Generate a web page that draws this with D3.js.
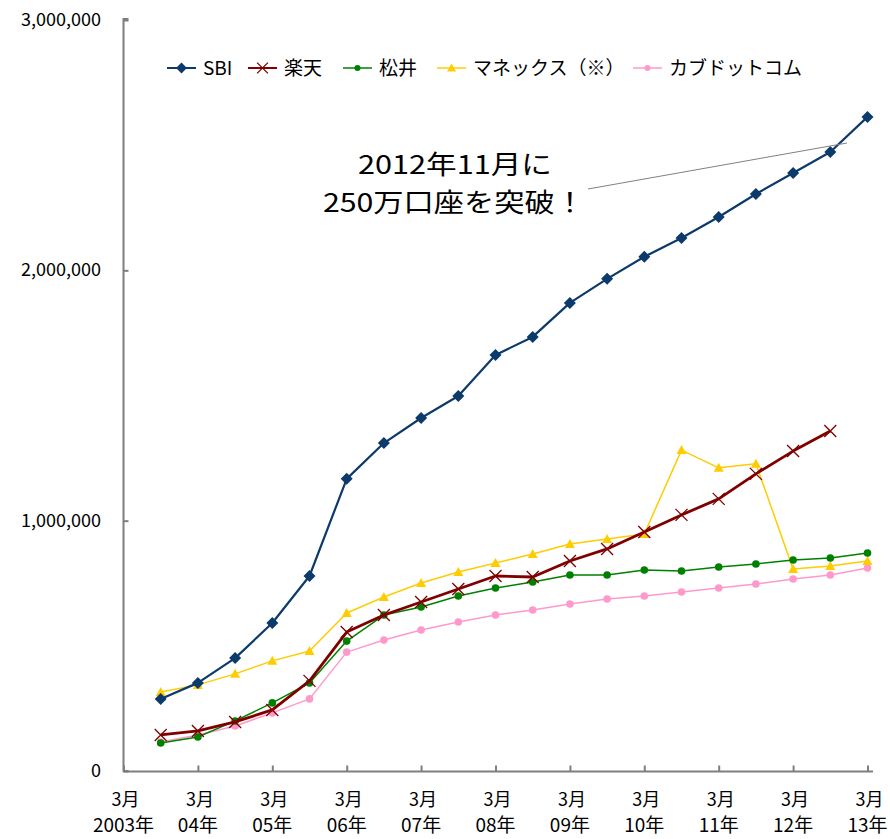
<!DOCTYPE html>
<html>
<head>
<meta charset="utf-8">
<script src="https://cdn.jsdelivr.net/npm/d3@7"></script>
<style>
  body { margin: 0; background: #fff; }
  text { font-family: "Noto Sans CJK JP", "Liberation Sans", sans-serif; fill: #000; }
</style>
</head>
<body>
<div id="chart"></div>
<script>
// half-year steps from 2003/3 (index 0) to 2013/3 (index 20); data starts at 2003/9
const periods = d3.range(1, 21);
const yearLabels = ["2003年", "04年", "05年", "06年", "07年", "08年", "09年", "10年", "11年", "12年", "13年"];
const yTicks = [0, 1000000, 2000000, 3000000];

const sbi = [288000, 352000, 451000, 591000, 779000, 1167000, 1310000, 1410000, 1498000, 1662000,
  1734000, 1870000, 1966000, 2054000, 2129000, 2213000, 2305000, 2389000, 2473000, 2613000];
const rakuten = [144000, 160000, 196000, 244000, 360000, 555000, 623000, 675000, 727000, 779000,
  775000, 839000, 887000, 955000, 1023000, 1087000, 1187000, 1278000, 1358000];
const matsui = [112000, 136000, 200000, 272000, 352000, 519000, 623000, 655000, 699000, 731000,
  755000, 783000, 783000, 803000, 799000, 815000, 827000, 843000, 851000, 871000];
const monex = [316000, 344000, 388000, 440000, 479000, 631000, 695000, 751000, 795000, 831000,
  867000, 907000, 927000, 947000, 1282000, 1211000, 1227000, 807000, 819000, 839000];
const kabu = [116000, 144000, 180000, 232000, 288000, 475000, 523000, 563000, 595000, 623000,
  643000, 667000, 687000, 699000, 715000, 731000, 747000, 767000, 783000, 811000];

const series = [
  {name: "SBI", values: sbi, color: "#0b3a6b", width: 2.2, marker: "diamond", legendX: 167},
  {name: "楽天", values: rakuten, color: "#800000", width: 2.8, marker: "cross", legendX: 248},
  {name: "松井", values: matsui, color: "#008000", width: 1.5, marker: "circle", legendX: 343},
  {name: "マネックス（※）", values: monex, color: "#ffcc00", width: 1.5, marker: "triangle", legendX: 437},
  {name: "カブドットコム", values: kabu, color: "#ff99cc", width: 1.5, marker: "circle", legendX: 633}
];

const W = 890, H = 839;
const x = d3.scaleLinear().domain([0, 20]).range([123.5, 867.5]);
const y = d3.scaleLinear().domain([0, 3000000]).range([771, 20]);

const svg = d3.select("#chart").append("svg")
  .attr("width", W)
  .attr("height", H);

// y axis
const yAxis = d3.axisRight(y).tickValues(yTicks).tickSize(5).tickFormat("");
const gy = svg.append("g")
  .attr("transform", "translate(123.5,0)")
  .call(yAxis);
gy.select(".domain").attr("stroke", "#7f7f7f").attr("stroke-width", 2).attr("d", "M5,771H0V19H5");
gy.selectAll(".tick line").attr("stroke", "#7f7f7f").attr("stroke-width", 2);

svg.selectAll(".ylab")
  .data(yTicks)
  .enter().append("text")
  .attr("class", "ylab")
  .attr("x", 101)
  .attr("y", d => y(d) + 6)
  .attr("text-anchor", "end")
  .attr("font-size", 18)
  .text(d => d3.format(",")(d));

// x axis
const xAxis = d3.axisTop(x).tickValues(d3.range(0, 21, 2)).tickSize(6).tickFormat("");
const gx = svg.append("g")
  .attr("transform", "translate(0,771.5)")
  .call(xAxis);
gx.select(".domain").attr("stroke", "#7f7f7f").attr("stroke-width", 2).attr("d", "M123.5,0H873");
gx.selectAll(".tick line").attr("stroke", "#7f7f7f").attr("stroke-width", 2);

yearLabels.forEach((lab, k) => {
  const cx = x(k * 2);
  svg.append("text")
    .attr("x", cx + 2)
    .attr("y", 806)
    .attr("text-anchor", "middle")
    .attr("font-size", 18)
    .text("3月");
  svg.append("text")
    .attr("x", cx)
    .attr("y", 832)
    .attr("text-anchor", "middle")
    .attr("font-size", 19)
    .text(lab);
});

// markers
function drawMarker(g, type, color, cx, cy, scale) {
  const s = scale || 1;
  if (type === "diamond") {
    const r = 6 * s;
    g.append("path")
      .attr("d", `M${cx},${cy - r}L${cx + r},${cy}L${cx},${cy + r}L${cx - r},${cy}Z`)
      .attr("fill", color);
  } else if (type === "cross") {
    const r = 6 * s;
    g.append("path")
      .attr("d", `M${cx - r},${cy - r}L${cx + r},${cy + r}M${cx - r},${cy + r}L${cx + r},${cy - r}`)
      .attr("stroke", color).attr("stroke-width", 1.3).attr("fill", "none");
  } else if (type === "triangle") {
    const r = 5 * s;
    g.append("path")
      .attr("d", `M${cx},${cy - r}L${cx + r},${cy + r * 0.8}L${cx - r},${cy + r * 0.8}Z`)
      .attr("fill", color);
  } else {
    g.append("circle").attr("cx", cx).attr("cy", cy).attr("r", 3.8 * s).attr("fill", color);
  }
}

const line = d3.line()
  .x((d, i) => x(periods[i]))
  .y(d => y(d));

// draw from back to front: kabu, monex, matsui, rakuten, sbi
series.slice().reverse().forEach(s => {
  const g = svg.append("g");
  g.append("path")
    .datum(s.values)
    .attr("d", line)
    .attr("fill", "none")
    .attr("stroke", s.color)
    .attr("stroke-width", s.width)
    .attr("stroke-linejoin", "round");
  s.values.forEach((v, i) => drawMarker(g, s.marker, s.color, x(periods[i]), y(v)));
});

// legend
const legend = svg.append("g");
series.forEach(s => {
  const lx = s.legendX, ly = 68;
  legend.append("line")
    .attr("x1", lx).attr("x2", lx + 29)
    .attr("y1", ly).attr("y2", ly)
    .attr("stroke", s.color)
    .attr("stroke-width", Math.min(s.width, 2));
  drawMarker(legend, s.marker, s.color, lx + 14.5, ly, s.marker === "circle" ? 0.8 : 0.9);
  legend.append("text")
    .attr("x", lx + 36)
    .attr("y", ly + 7)
    .attr("font-size", 19)
    .text(s.name);
});

// annotation
svg.append("line")
  .attr("x1", 588).attr("y1", 189)
  .attr("x2", 847).attr("y2", 143)
  .attr("stroke", "#808080")
  .attr("stroke-width", 1);

svg.append("text")
  .attr("x", 358).attr("y", 174)
  .attr("font-size", 26)
  .attr("textLength", 194)
  .attr("lengthAdjust", "spacingAndGlyphs")
  .text("2012年11月に");
svg.append("text")
  .attr("x", 323).attr("y", 212)
  .attr("font-size", 26)
  .attr("textLength", 262)
  .attr("lengthAdjust", "spacingAndGlyphs")
  .text("250万口座を突破！");
</script>
</body>
</html>
